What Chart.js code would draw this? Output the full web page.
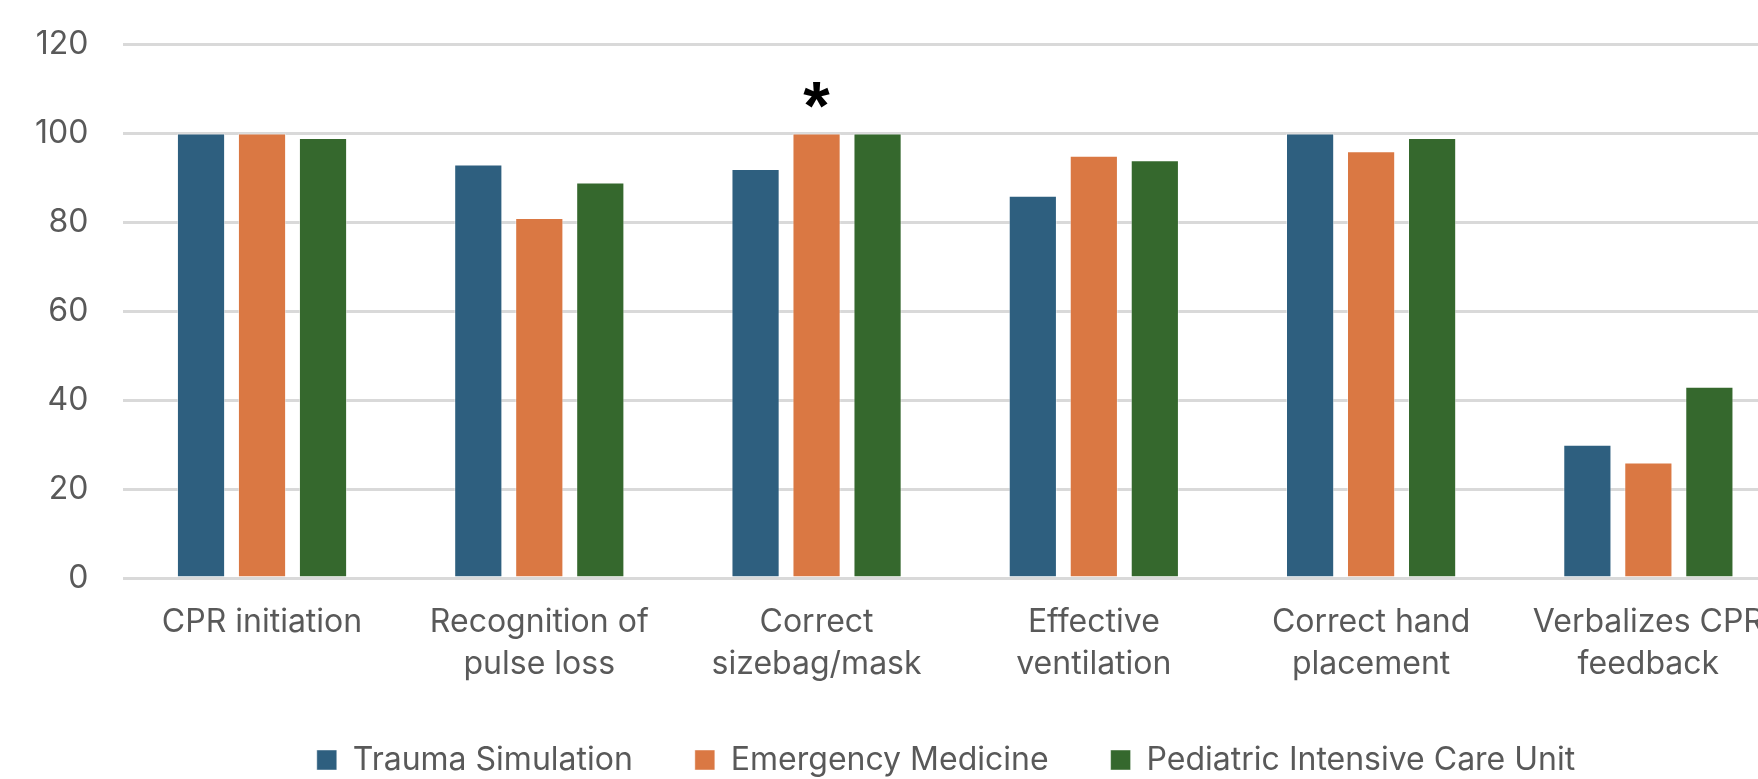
<!DOCTYPE html>
<html>
<head>
<meta charset="utf-8">
<script src="https://cdn.jsdelivr.net/npm/chart.js@4.4.1/dist/chart.umd.min.js"></script>
<style>
  html, body { margin: 0; padding: 0; background: #ffffff; overflow: hidden; }
  #wrap { width: 1758px; height: 779px; overflow: hidden; position: relative; }
  canvas { display: block; }
</style>
</head>
<body>
<div id="wrap"><canvas id="chart" width="1892" height="786"></canvas></div>
<script>
// CPR skill performance (%) by training group
const categories = [
  ["CPR initiation"],
  ["Recognition of", "pulse loss"],
  ["Correct", "sizebag/mask"],
  ["Effective", "ventilation"],
  ["Correct hand", "placement"],
  ["Verbalizes CPR", "feedback"]
];
const seriesNames = ["Trauma Simulation", "Emergency Medicine", "Pediatric Intensive Care Unit"];
const traumaSimulation = [100, 93, 92, 86, 100, 30];
const emergencyMedicine = [100, 81, 100, 95, 96, 26];
const pediatricICU = [99, 89, 100, 94, 99, 43];
const yTicks = [0, 20, 40, 60, 80, 100, 120];
// significance marker: series index, category index, symbol
const significance = [{ series: 1, index: 2, text: "*" }];

const colors = ["#2E5F7F", "#DA7843", "#35682D"];
const fontFamily = "Inter, 'Liberation Sans', Arial, sans-serif";
const textColor = "#595959";

const markerPlugin = {
  id: 'markers',
  afterDatasetsDraw(chart) {
    const ctx = chart.ctx;
    ctx.save();
    ctx.fillStyle = "#000000";
    ctx.font = "bold 68px 'Liberation Sans', Arial, sans-serif";
    ctx.textAlign = "center";
    ctx.textBaseline = "alphabetic";
    significance.forEach(m => {
      const bar = chart.getDatasetMeta(m.series).data[m.index];
      ctx.fillText(m.text, bar.x, bar.y - 5);
    });
    ctx.restore();
  }
};

const datasets = [traumaSimulation, emergencyMedicine, pediatricICU].map((vals, i) => ({
  label: seriesNames[i],
  data: vals,
  backgroundColor: colors[i],
  borderColor: "rgba(255,255,255,0.45)",
  borderWidth: 1,
  categoryPercentage: 0.66,
  barPercentage: 0.79
}));

new Chart(document.getElementById('chart'), {
  type: 'bar',
  data: { labels: categories, datasets },
  options: {
    responsive: false,
    animation: false,
    devicePixelRatio: 1,
    layout: { padding: { left: 0, right: 0, top: 0, bottom: 0 } },
    plugins: {
      tooltip: { enabled: false },
      legend: {
        position: 'bottom',
        labels: {
          boxWidth: 20,
          boxHeight: 20,
          padding: 62,
          color: textColor,
          font: { family: fontFamily, size: 32 }
        }
      }
    },
    scales: {
      x: {
        clip: false,
        grid: { display: false },
        border: { display: false },
        afterFit(scale) { scale.height = 104; },
        ticks: {
          color: textColor,
          font: { family: fontFamily, size: 32, lineHeight: 1.33 },
          padding: 15,
          maxRotation: 0,
          autoSkip: false
        }
      },
      y: {
        min: 0,
        max: 120,
        afterBuildTicks(scale) { scale.ticks = yTicks.map(v => ({ value: v })); },
        grid: { color: "#d9d9d9", lineWidth: 3, drawTicks: false },
        border: { display: false },
        ticks: {
          color: textColor,
          font: { family: fontFamily, size: 32, lineHeight: 0.6 },
          padding: 35
        }
      },
      // empty right-hand margin beside the plot
      yRight: {
        position: 'right',
        min: 0,
        max: 120,
        display: true,
        grid: { display: false, drawOnChartArea: false },
        border: { display: false },
        ticks: { display: false },
        afterFit(scale) { scale.width = 105; }
      }
    }
  },
  plugins: [markerPlugin]
});
</script>
</body>
</html>
